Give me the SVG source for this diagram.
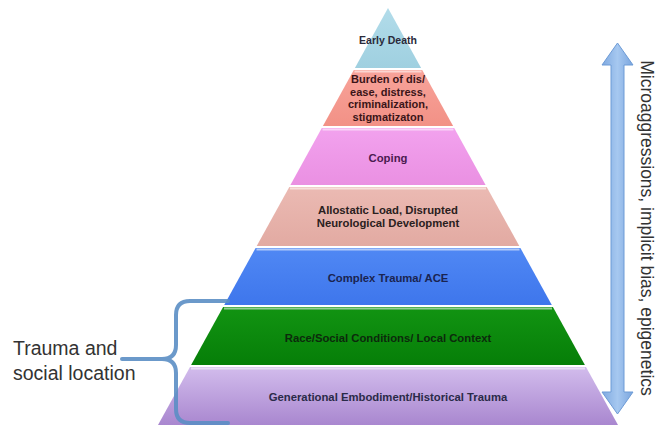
<svg xmlns="http://www.w3.org/2000/svg" width="656" height="430" viewBox="0 0 656 430">
<defs>
<style>
.lbl{font-family:"Liberation Sans",Arial,sans-serif;font-weight:bold;font-size:11.3px;text-anchor:middle}
.side{font-family:"Liberation Sans",Arial,sans-serif;fill:#333333}
.hl{stroke:#ffffff;stroke-opacity:0.55;stroke-width:2;fill:none}
</style>
<linearGradient id="g1" x1="0" y1="0" x2="0" y2="1"><stop offset="0" stop-color="#b2dcea"/><stop offset="1" stop-color="#9fd0e0"/></linearGradient>
<linearGradient id="g2" x1="0" y1="0" x2="0" y2="1"><stop offset="0" stop-color="#f8a39a"/><stop offset="1" stop-color="#f29186"/></linearGradient>
<linearGradient id="g3" x1="0" y1="0" x2="0" y2="1"><stop offset="0" stop-color="#f2a2ee"/><stop offset="1" stop-color="#ea90e2"/></linearGradient>
<linearGradient id="g4" x1="0" y1="0" x2="0" y2="1"><stop offset="0" stop-color="#ebbab3"/><stop offset="1" stop-color="#e2aaa2"/></linearGradient>
<linearGradient id="g5" x1="0" y1="0" x2="0" y2="1"><stop offset="0" stop-color="#5088f4"/><stop offset="1" stop-color="#3e76ec"/></linearGradient>
<linearGradient id="g6" x1="0" y1="0" x2="0" y2="1"><stop offset="0" stop-color="#129412"/><stop offset="1" stop-color="#067e08"/></linearGradient>
<linearGradient id="g7" x1="0" y1="0" x2="0" y2="1"><stop offset="0" stop-color="#d2bcec"/><stop offset="1" stop-color="#a987cf"/></linearGradient>
<linearGradient id="ga" x1="0" y1="0" x2="1" y2="0"><stop offset="0" stop-color="#7fa9e0"/><stop offset="0.5" stop-color="#a6c8f0"/><stop offset="1" stop-color="#7aa5de"/></linearGradient>
</defs>
<rect width="656" height="430" fill="#ffffff"/>

<g id="layer-early-death">
<polygon points="388,8 421.1,68 354.9,68" fill="url(#g1)"/>
<text class="lbl" x="388" y="44" font-size="10.5" style="font-size:10.5px" fill="#2a2a3a">Early Death</text>
</g>

<g id="layer-burden">
<polygon points="353.8,70 422.2,70 453.1,126 322.9,126" fill="url(#g2)"/>
<line class="hl" x1="354.5" y1="71.5" x2="421.5" y2="71.5"/>
<text class="lbl" x="388" fill="#3a1418" style="font-size:11px"><tspan x="388" y="83">Burden of dis/</tspan><tspan x="388" y="95.5">ease, distress,</tspan><tspan x="388" y="108">criminalization,</tspan><tspan x="388" y="120.5">stigmatizaton</tspan></text>
</g>

<g id="layer-coping">
<polygon points="321.8,128 454.2,128 485.6,185 290.4,185" fill="url(#g3)"/>
<line class="hl" x1="322.5" y1="129.5" x2="453.5" y2="129.5"/>
<text class="lbl" x="388" y="162" fill="#4a1a50">Coping</text>
</g>

<g id="layer-allostatic">
<polygon points="289.3,187 486.7,187 519.3,246 256.7,246" fill="url(#g4)"/>
<line class="hl" x1="290" y1="188.5" x2="486" y2="188.5"/>
<text class="lbl" x="388" fill="#2a2020"><tspan x="388" y="214">Allostatic Load, Disrupted</tspan><tspan x="388" y="227">Neurological Development</tspan></text>
</g>

<g id="layer-complex-trauma">
<polygon points="255.6,248 520.4,248 551.8,305 224.2,305" fill="url(#g5)"/>
<line class="hl" x1="256.5" y1="249.5" x2="519.5" y2="249.5"/>
<text class="lbl" x="388" y="282" fill="#1a2450">Complex Trauma/ ACE</text>
</g>

<g id="layer-race">
<polygon points="223.1,307 552.9,307 584.9,365 191.1,365" fill="url(#g6)"/>
<line class="hl" x1="224" y1="308.5" x2="552" y2="308.5"/>
<text class="lbl" x="388" y="342" fill="#0c2a0c">Race/Social Conditions/ Local Context</text>
</g>

<g id="layer-generational">
<polygon points="190,367 586,367 618,425 158,425" fill="url(#g7)"/>
<line class="hl" x1="191" y1="368.5" x2="585" y2="368.5"/>
<text class="lbl" x="388" y="401" fill="#2a2a48">Generational Embodiment/Historical Trauma</text>
</g>

<g id="label-trauma-social">
<text class="side" x="13" y="355" font-size="19.5">Trauma and</text>
<text class="side" x="13" y="380" font-size="19.5">social location</text>
</g>

<g id="label-microaggressions">
<text class="side" transform="translate(641,228) rotate(90)" text-anchor="middle" font-size="17.5">Microaggressions, implicit bias, epigenetics</text>
</g>

<g id="connectors">
<path d="M228,301 H190 Q176,301 176,315 V345 Q176,359 162,359 H122 M162,359 Q176,359 176,373 V409 Q176,423 190,423 H228" fill="none" stroke="#5b8ec4" stroke-width="4" stroke-linecap="round" stroke-linejoin="round" stroke-opacity="0.9"/>
<polygon points="617.5,43 633,65 624,65 624,392 633,392 617.5,414 602,392 611,392 611,65 602,65" fill="url(#ga)" stroke="#6d9bd6" stroke-width="1"/>
</g>
</svg>
